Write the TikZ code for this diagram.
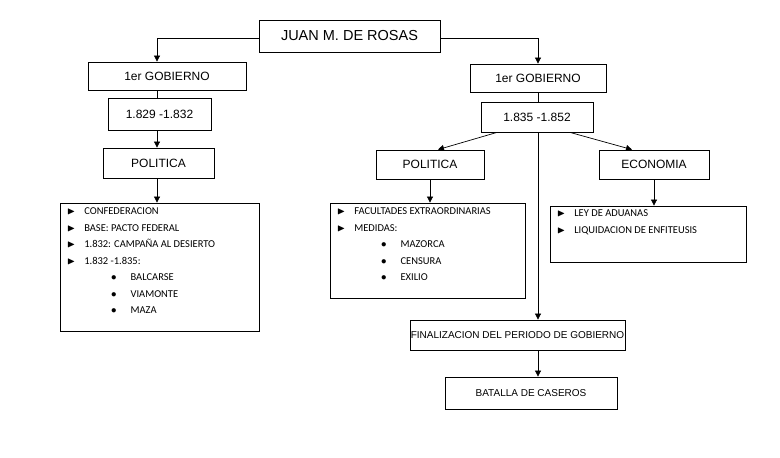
\documentclass[tikz,border=0pt]{standalone}
\usepackage{amssymb}
\usepackage{fontspec}
\setmainfont{Liberation Sans}
\newfontfamily\calfnt{Carlito}
\usetikzlibrary{arrows.meta}
\begin{document}
\begin{tikzpicture}[x=1pt,y=-1pt,
 bx/.style={draw,thick,font=\fontsize{12}{14}\selectfont,inner sep=0},
 ln/.style={draw,line width=0.7pt},
 ar/.style={ln,-{Triangle[length=6pt,width=6pt]}},
 lst/.style={font=\calfnt\fontsize{10.5}{16.5}\selectfont,align=left,anchor=north west}]
\useasboundingbox (0,0) rectangle (780,458);
\newcommand{\bxat}[6]{\node[bx,minimum width=#4-#2,minimum height=#5-#3] (#1) at ({(#2+#4)/2},{(#3+#5)/2}) {#6};}
\bxat{juan}{259}{20}{440}{52}{\fontsize{14.5}{16}\selectfont JUAN M. DE ROSAS}
\bxat{g1}{88}{62}{246}{90}{1er GOBIERNO}
\bxat{d1}{108}{98}{211}{130}{1.829 -1.832}
\bxat{p1}{103}{148}{214}{178}{POLITICA}
\bxat{l1}{60}{203}{259}{331}{}
\bxat{g2}{470}{64}{606}{92}{1er GOBIERNO}
\bxat{d2}{481}{102}{593}{132}{1.835 -1.852}
\bxat{p2}{376}{150}{484}{179}{POLITICA}
\bxat{e2}{599}{150}{709}{179}{ECONOMIA}
\bxat{l2}{330}{203}{525}{298}{}
\bxat{l3}{550}{206}{746}{262}{}
\bxat{fin}{410}{320}{625}{350}{\fontsize{10}{12}\selectfont FINALIZACION DEL PERIODO DE GOBIERNO}
\bxat{bat}{445}{377}{617}{409}{\fontsize{10}{12}\selectfont BATALLA DE CASEROS}
\coordinate (xl) at (157,38); \coordinate (xr) at (538,38);
\draw[ar] (juan.west|-xl) -- (xl) -- (xl|-g1.north);
\draw[ar] (juan.east|-xr) -- (xr) -- (xr|-g2.north);
\draw[ln] (xl|-g1.south) -- (xl|-d1.north);
\draw[ar] (xl|-d1.south) -- (xl|-p1.north);
\draw[ar] (xl|-p1.south) -- (xl|-l1.north);
\draw[ln] (xr|-g2.south) -- (xr|-d2.north);
\draw[ar] ([xshift=-40pt]d2.south) -- ([xshift=8pt]p2.north);
\draw[ar] ([xshift=33pt]d2.south) -- ([xshift=-22pt]e2.north);
\draw[ar] (p2) -- (p2|-l2.north);
\draw[ar] (e2) -- (e2|-l3.north);
\draw[ar] (xr|-d2.south) -- (xr|-fin.north);
\draw[ar] (xr|-fin.south) -- (xr|-bat.north);
\node[lst] at (l1.north west) [xshift=4pt,yshift=-2pt] {\hbox{$\blacktriangleright$}\hspace{9pt}CONFEDERACION\\ \hbox{$\blacktriangleright$}\hspace{9pt}BASE: PACTO FEDERAL\\ \hbox{$\blacktriangleright$}\hspace{9pt}1.832: CAMPAÑA AL DESIERTO\\ \hbox{$\blacktriangleright$}\hspace{9pt}1.832 -1.835:\\ \hspace{44pt}$\bullet$\hspace{14pt}BALCARSE\\ \hspace{44pt}$\bullet$\hspace{14pt}VIAMONTE\\ \hspace{44pt}$\bullet$\hspace{14pt}MAZA};
\node[lst] at (l2.north west) [xshift=4pt,yshift=-2pt] {\hbox{$\blacktriangleright$}\hspace{9pt}FACULTADES EXTRAORDINARIAS\\ \hbox{$\blacktriangleright$}\hspace{9pt}MEDIDAS:\\ \hspace{44pt}$\bullet$\hspace{14pt}MAZORCA\\ \hspace{44pt}$\bullet$\hspace{14pt}CENSURA\\ \hspace{44pt}$\bullet$\hspace{14pt}EXILIO};
\node[lst] at (l3.north west) [xshift=4pt,yshift=-1pt] {\hbox{$\blacktriangleright$}\hspace{9pt}LEY DE ADUANAS\\ \hbox{$\blacktriangleright$}\hspace{9pt}LIQUIDACION DE ENFITEUSIS};
\end{tikzpicture}
\end{document}
